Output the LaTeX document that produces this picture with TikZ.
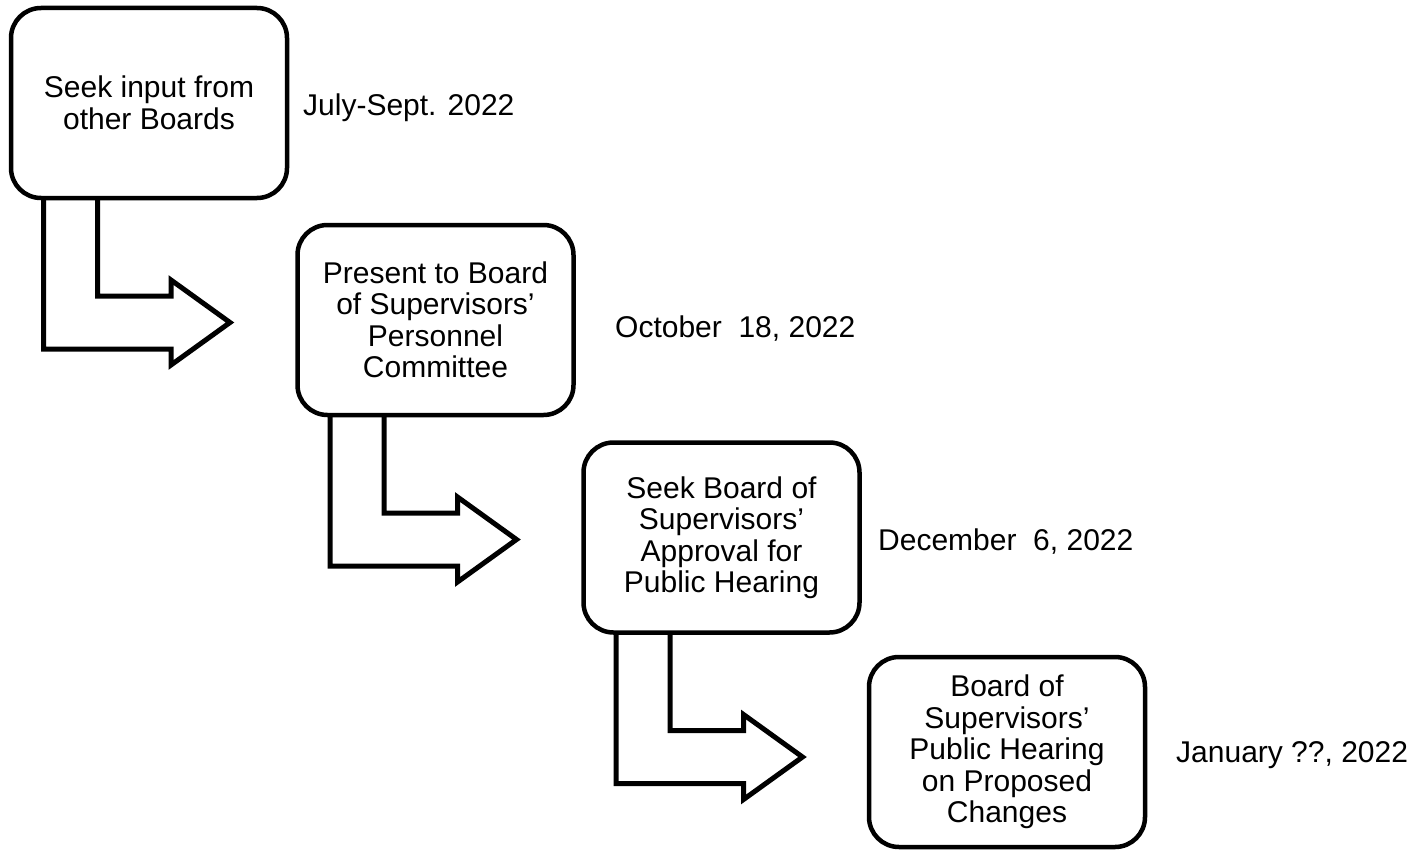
\documentclass[tikz,border=0pt]{standalone}
\usepackage{fontspec}
\setmainfont{Liberation Sans}
\usetikzlibrary{calc}

\tikzset{
  stagebox/.style={draw, line width=4.5pt, rounded corners=30pt, fill=white,
    minimum width=276pt, minimum height=190pt, inner sep=0pt, outer sep=0pt,
    align=center, font=\fontsize{30}{31.5}\selectfont},
  datelabel/.style={anchor=base west, inner sep=0pt, font=\fontsize{30}{31.5}\selectfont},
  arrowline/.style={draw, line width=5pt, line join=miter}
}

% hollow bent arrow hanging under a stage box
\newcommand\stagearrow[1]{%
  \draw[arrowline] ($(#1.south west)+(32.5,0)$) -- ++(0,151) -- ++(127.5,0)
    -- ++(0,16) -- ($(#1.south west)+(219,124.5)$)
    -- ($(#1.south west)+(160,82)$) -- ++(0,16)
    -- ($(#1.south west)+(86.5,98)$) -- ++(0,-98);
}

\begin{document}
\begin{tikzpicture}[x=1pt, y=-1pt]
  \useasboundingbox (0,0) rectangle (1416,851);

  \node[stagebox] (s1) at (149,103) {Seek input from\\other Boards};
  \node[stagebox] (s2) at (435.5,320) {Present to Board\\of Supervisors’\\Personnel\\Committee};
  \node[stagebox] (s3) at (721.5,537.5) {Seek Board of\\Supervisors’\\Approval for\\Public Hearing};
  \node[stagebox] (s4) at (1007,752) {Board of\\Supervisors’\\Public Hearing\\on Proposed\\Changes};

  \stagearrow{s1}
  \stagearrow{s2}
  \stagearrow{s3}

  \node[datelabel] (d1) at (303,115) {July-Sept. 2022};
  \node[datelabel] (d2) at (615,337) {October\ \ 18, 2022};
  \node[datelabel] (d3) at (878,550) {December\ \ 6, 2022};
  \node[datelabel] (d4) at (1176,762) {January ??, 2022};
\end{tikzpicture}
\end{document}
